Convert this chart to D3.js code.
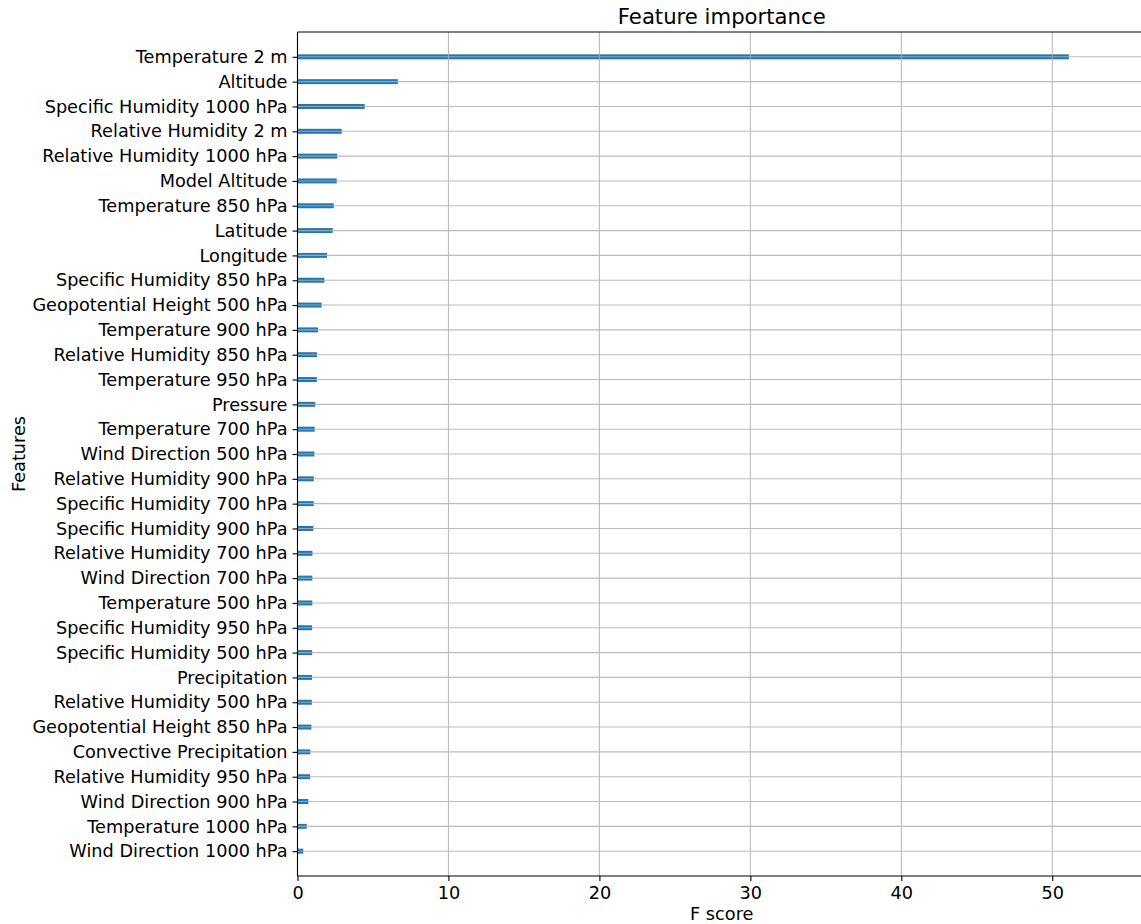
<!DOCTYPE html>
<html>
<head>
<meta charset="utf-8">
<script src="https://cdn.jsdelivr.net/npm/d3@7"></script>
<style>
  body { margin: 0; background: #fff; }
  svg { display: block; font-family: "DejaVu Sans", sans-serif; }
</style>
</head>
<body>
<div id="chart"></div>
<script>
// features listed from top to bottom, as in the picture
const features = [
    "Temperature 2 m", "Altitude", "Specific Humidity 1000 hPa", "Relative Humidity 2 m",
    "Relative Humidity 1000 hPa", "Model Altitude", "Temperature 850 hPa", "Latitude",
    "Longitude", "Specific Humidity 850 hPa", "Geopotential Height 500 hPa", "Temperature 900 hPa",
    "Relative Humidity 850 hPa", "Temperature 950 hPa", "Pressure", "Temperature 700 hPa",
    "Wind Direction 500 hPa", "Relative Humidity 900 hPa", "Specific Humidity 700 hPa",
    "Specific Humidity 900 hPa", "Relative Humidity 700 hPa", "Wind Direction 700 hPa",
    "Temperature 500 hPa", "Specific Humidity 950 hPa", "Specific Humidity 500 hPa",
    "Precipitation", "Relative Humidity 500 hPa", "Geopotential Height 850 hPa",
    "Convective Precipitation", "Relative Humidity 950 hPa", "Wind Direction 900 hPa",
    "Temperature 1000 hPa", "Wind Direction 1000 hPa"
];
const fScores = [
    51.1, 6.65, 4.45, 2.93,
    2.63, 2.6, 2.4, 2.33,
    1.95, 1.78, 1.6, 1.36,
    1.29, 1.28, 1.18, 1.14,
    1.12, 1.08, 1.07,
    1.05, 0.99, 0.98,
    0.98, 0.97, 0.97,
    0.96, 0.95, 0.92,
    0.85, 0.84, 0.72,
    0.61, 0.38
];
const xTicks = [0, 10, 20, 30, 40, 50];

const createChart = () => {
    const W = 1141, H = 924;
    const left = 297.5, top = 32, bottom = 876, right = 1146;
    const fs = 17.7; // tick / label font size
    const n = features.length;
    const data = features.map((f, i) => ({ name: f, value: fScores[i], pos: n - 1 - i }));

    const svg = d3.select("#chart").append("svg").attr("width", W).attr("height", H);

    const x = d3.scaleLinear().domain([0, d3.max(fScores) * 1.1]).range([left, right]);
    const y = d3.scaleLinear().domain([-1, n]).range([bottom, top]);
    const barH = y(0) - y(0.2);

    // bars (below the grid, like matplotlib)
    svg.append("g").selectAll("rect")
        .data(data)
        .join("rect")
        .attr("x", x(0))
        .attr("y", d => y(d.pos) - barH / 2)
        .attr("width", d => x(d.value) - x(0))
        .attr("height", barH)
        .attr("fill", "#1f77b4");

    // grid
    const grid = svg.append("g").attr("stroke", "#b0b0b0").attr("stroke-width", 1.1).attr("opacity", 0.85);
    grid.selectAll("line.v")
        .data(xTicks)
        .join("line")
        .attr("class", "v")
        .attr("x1", d => x(d)).attr("x2", d => x(d))
        .attr("y1", top).attr("y2", bottom);
    grid.selectAll("line.h")
        .data(data)
        .join("line")
        .attr("class", "h")
        .attr("x1", left).attr("x2", right)
        .attr("y1", d => y(d.pos)).attr("y2", d => y(d.pos));

    // axes
    const xAxis = svg.append("g")
        .attr("transform", `translate(0,${bottom})`)
        .call(d3.axisBottom(x).tickValues(xTicks).tickSize(5).tickPadding(5));
    xAxis.select(".domain").remove();
    xAxis.selectAll("text").attr("font-size", fs).attr("fill", "#000").attr("font-family", "DejaVu Sans");
    xAxis.selectAll("line").attr("stroke", "#000").attr("stroke-width", 1.1);

    const yAxis = svg.append("g")
        .attr("transform", `translate(${left},0)`)
        .call(d3.axisLeft(y).tickValues(data.map(d => d.pos))
            .tickFormat(p => features[n - 1 - p]).tickSize(5).tickPadding(5));
    yAxis.select(".domain").remove();
    yAxis.selectAll("text").attr("font-size", fs).attr("fill", "#000").attr("font-family", "DejaVu Sans");
    yAxis.selectAll("line").attr("stroke", "#000").attr("stroke-width", 1.1);

    // spines
    const spine = svg.append("g").attr("stroke", "#000").attr("stroke-width", 1.1);
    spine.append("line").attr("x1", left).attr("x2", left).attr("y1", top).attr("y2", bottom);
    spine.append("line").attr("x1", left).attr("x2", right).attr("y1", bottom).attr("y2", bottom);
    spine.append("line").attr("x1", left).attr("x2", right).attr("y1", top).attr("y2", top);
    spine.append("line").attr("x1", right).attr("x2", right).attr("y1", top).attr("y2", bottom);

    // titles
    const cx = (left + right) / 2;
    svg.append("text")
        .attr("x", cx).attr("y", top - 8)
        .attr("text-anchor", "middle")
        .attr("font-size", 21.2).attr("fill", "#000")
        .text("Feature importance");
    svg.append("text")
        .attr("x", cx).attr("y", 920)
        .attr("text-anchor", "middle")
        .attr("font-size", fs).attr("fill", "#000")
        .text("F score");
    svg.append("text")
        .attr("transform", `translate(25,${(top + bottom) / 2}) rotate(-90)`)
        .attr("text-anchor", "middle")
        .attr("font-size", fs).attr("fill", "#000")
        .text("Features");
};

createChart();
</script>
</body>
</html>
